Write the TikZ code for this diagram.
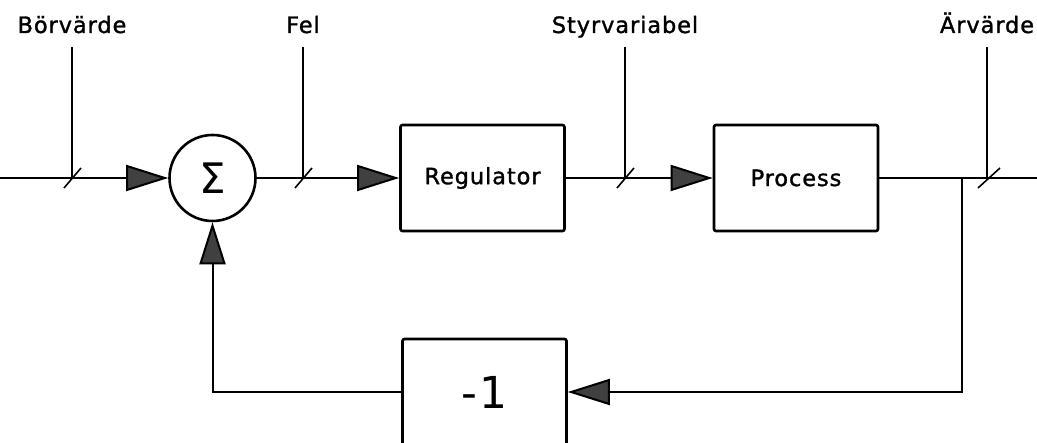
\documentclass[tikz,border=0pt]{standalone}
\usepackage{fontspec}
\setmainfont{DejaVu Sans}[LetterSpace=4, BoldFont={DejaVu Sans}, BoldFeatures={FakeBold=1.3}]
\usetikzlibrary{arrows.meta, positioning, calc}

\begin{document}
\begin{tikzpicture}[%
  x=1pt, y=-1pt,
  every node/.style={align=center, font=\fontsize{22.5}{24}\selectfont\bfseries},
  block/.style={draw, line width=2.6pt, rounded corners=2pt, minimum width=164pt, minimum height=106pt, inner sep=0pt},
  sumnode/.style={draw, circle, line width=2.6pt, minimum size=86pt, inner sep=0pt, font=\fontsize{42}{42}\selectfont},
  lbl/.style={inner sep=0pt, anchor=base},
  wire/.style={line width=2pt},
  arr/.style={-{Triangle[length=42pt, width=26pt, fill=black!75]}, line width=2pt},
  tick/.style={line width=1.6pt}
]
\useasboundingbox (0,0) rectangle (1037,443);

% 1. Blocks in the loop
\node[sumnode] (sum) at (212.5,178) {Σ};
\node[block] (reg) at (482.5,178) {Regulator};
\node[block] (proc) at (796,178) {Process};
\node[block, font=\fontsize{44}{44}\selectfont] (neg) at (484.5,392) {-1};

% 2. Forward path
\coordinate (in) at (0,178);
\coordinate (branch) at (962,178);
\coordinate (out) at (1037,178);
\draw[arr] (in) -- (sum);
\draw[arr] (sum) -- (reg);
\draw[arr] (reg) -- (proc);
\draw[wire] (proc) -- (out);

% 3. Feedback path
\draw[arr] (branch) |- (neg);
\draw[arr] (neg) -| (sum);

% 4. Signal labels
\node[lbl] (bv) at (72,33) {Börvärde};
\draw[wire] ([yshift=-14pt]bv.base) -- (bv.base |- in);
\draw[tick] (bv.base |- in) ++(-8,10) -- ++(17,-20);

\node[lbl] (fel) at (303,33) {Fel};
\draw[wire] ([yshift=-14pt]fel.base) -- (fel.base |- in);
\draw[tick] (fel.base |- in) ++(-8,10) -- ++(17,-20);

\node[lbl] (sv) at (625,33) {Styrvariabel};
\draw[wire] ([yshift=-14pt]sv.base) -- (sv.base |- in);
\draw[tick] (sv.base |- in) ++(-8,10) -- ++(17,-20);

\node[lbl] (av) at (987,33) {Ärvärde};
\draw[wire] ([yshift=-14pt]av.base) -- (av.base |- in);
\draw[tick] (av.base |- in) ++(-9,10) -- ++(22,-20);

\end{tikzpicture}
\end{document}
